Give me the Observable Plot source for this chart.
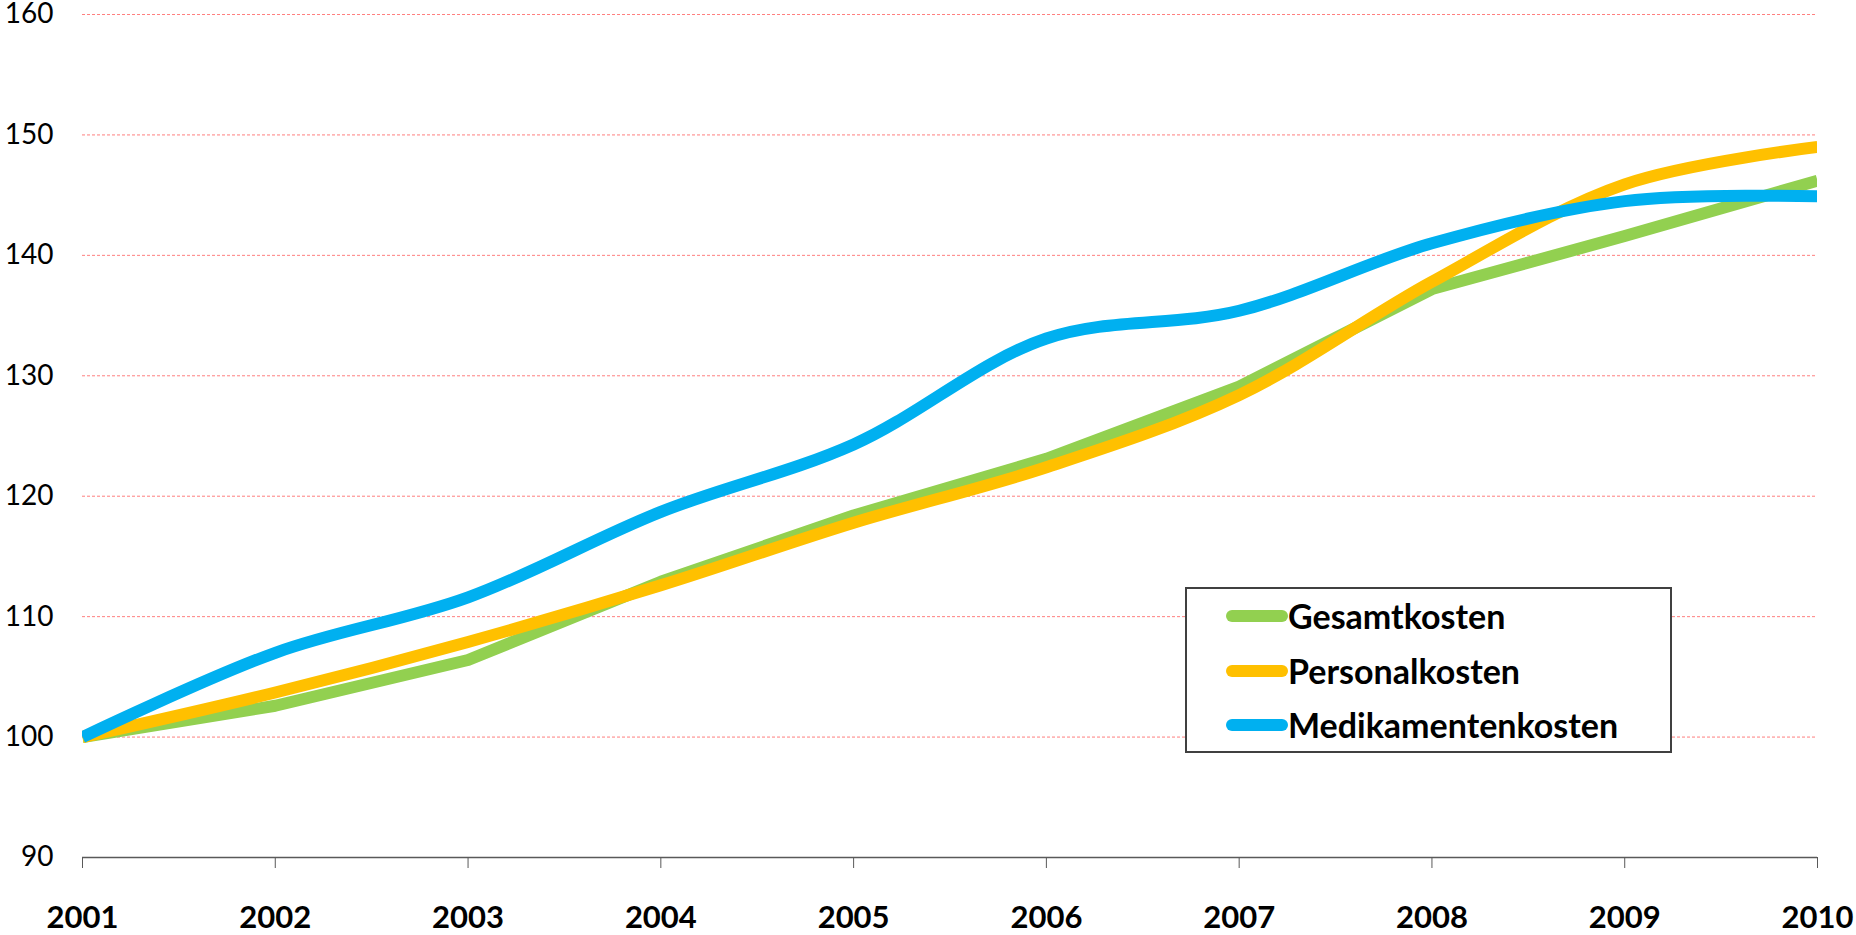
<!DOCTYPE html>
<html>
<head>
<meta charset="utf-8">
<script src="https://cdn.jsdelivr.net/npm/d3@7"></script>
<script src="https://cdn.jsdelivr.net/npm/@observablehq/plot@0.6"></script>
<style>
  html, body { margin: 0; padding: 0; background: #fff; }
  #wrap { position: relative; width: 1856px; height: 935px; }
  #legend {
    position: absolute; left: 1185px; top: 587px; width: 483px; height: 162px;
    border: 2px solid #404040; background: #fff; box-sizing: content-box;
    font-family: Lato, sans-serif; font-weight: bold; font-size: 34px; color: #000;
  }
  .sw { position: absolute; left: 39px; width: 62px; height: 12px; border-radius: 6px; }
  .lab { position: absolute; left: 101px; white-space: nowrap; line-height: 40px; }
</style>
</head>
<body>
<div id="wrap"></div>
<script>
const years = [2001, 2002, 2003, 2004, 2005, 2006, 2007, 2008, 2009, 2010];
const gesamtkosten = [100, 102.6, 106.4, 112.9, 118.4, 123.1, 129.1, 137.2, 141.6, 146.2];
const personalkosten = [100, 103.7, 107.9, 112.6, 117.8, 122.4, 128.4, 137.8, 145.9, 149.0];
const medikamentenkosten = [100, 107.0, 111.6, 118.7, 124.3, 133.1, 135.4, 141.0, 144.5, 144.9];
const seriesNames = ["Gesamtkosten", "Personalkosten", "Medikamentenkosten"];
const seriesColors = ["#92D050", "#FFC000", "#00B0F0"];
const seriesCurves = ["linear", "catmull-rom", "catmull-rom"];
const yTicks = [90, 100, 110, 120, 130, 140, 150, 160];
const gridValues = [100, 110, 120, 130, 140, 150, 160];

const allValues = [gesamtkosten, personalkosten, medikamentenkosten];
const tables = allValues.map((vals, s) => years.map((y, i) => ({year: y, value: vals[i], series: seriesNames[s]})));

const chart = Plot.plot({
  width: 1856,
  height: 935,
  marginLeft: 82,
  marginRight: 39,
  marginTop: 14,
  marginBottom: 78,
  style: {fontFamily: "Lato, sans-serif", background: "#fff", color: "#000", overflow: "visible"},
  x: {domain: [2001, 2010]},
  y: {domain: [90, 160]},
  marks: [
    Plot.ruleY(gridValues, {stroke: "#FF7F7F", strokeWidth: 1, strokeDasharray: "3,2"}),
    Plot.axisY({ticks: yTicks, tickSize: 0, tickPadding: 29, fontSize: 28, label: null, tickFormat: d => String(d)}),
    Plot.axisX({ticks: years, tickSize: 11, tickPadding: 37, fontSize: 31, fontWeight: "bold", label: null, stroke: "#595959", tickFormat: d => String(d)}),
    Plot.ruleY([90], {stroke: "#595959", strokeWidth: 1.5}),
    ...tables.map((t, s) => Plot.line(t, {
      x: "year", y: "value", stroke: seriesColors[s], strokeWidth: 12,
      curve: seriesCurves[s], strokeLinecap: "butt", strokeLinejoin: "round", clip: true
    }))
  ]
});
document.getElementById("wrap").appendChild(chart);

const legend = document.createElement("div");
legend.id = "legend";
const rowCenters = [27, 82, 136];
seriesNames.forEach((n, i) => {
  const sw = document.createElement("div");
  sw.className = "sw";
  sw.style.background = seriesColors[i];
  sw.style.top = (rowCenters[i] - 6) + "px";
  legend.appendChild(sw);
  const lab = document.createElement("div");
  lab.className = "lab";
  lab.textContent = n;
  lab.style.top = (rowCenters[i] - 20) + "px";
  legend.appendChild(lab);
});
document.getElementById("wrap").appendChild(legend);
</script>
</body>
</html>
